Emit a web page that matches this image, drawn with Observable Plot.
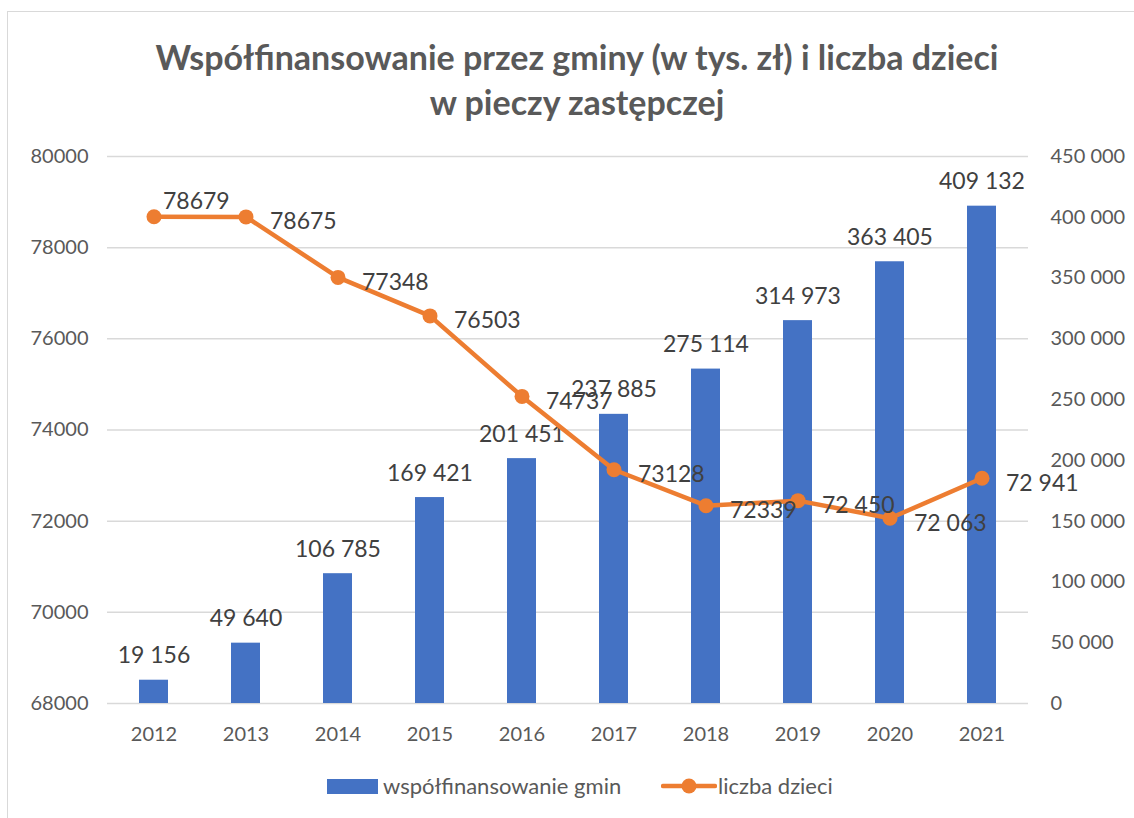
<!DOCTYPE html>
<html>
<head>
<meta charset="utf-8">
<script src="https://cdn.jsdelivr.net/npm/d3@7"></script>
<script src="https://cdn.jsdelivr.net/npm/@observablehq/plot@0.6"></script>
<style>
  body { margin: 0; background: #fff; font-family: Lato, "Open Sans", sans-serif; }
  #wrap { position: relative; width: 1134px; height: 818px; overflow: hidden; }
  #frame { position: absolute; left: 7px; top: 11px; width: 1200px; height: 900px; border: 1.5px solid #d9d9d9; box-sizing: border-box; }
  #title { position: absolute; left: 0; top: 34px; width: 1154px; text-align: center; font-weight: bold; font-size: 34px; line-height: 45px; color: #595959; }
  #chart { position: absolute; left: 0; top: 130px; }
  #legend { position: absolute; top: 774px; left: 0; width: 1134px; height: 24px; font-size: 22px; color: #595959; }
  .li { position: absolute; top: 0; height: 24px; line-height: 24px; white-space: nowrap; }
</style>
</head>
<body>
<div id="wrap">
  <div id="frame"></div>
  <div id="title">Współfinansowanie przez gminy (w tys. zł) i liczba dzieci<br>w pieczy zastępczej</div>
  <div id="chart"></div>
  <div id="legend">
    <svg class="li" style="left:327px; top:5px" width="51" height="15"><rect width="51" height="15" fill="#4472C4"/></svg>
    <span class="li" style="left:383px">współfinansowanie gmin</span>
    <svg class="li" style="left:661px; top:0px" width="56" height="24"><line x1="2" x2="54" y1="12" y2="12" stroke="#ED7D31" stroke-width="4.5" stroke-linecap="round"/><circle cx="28" cy="12" r="7.5" fill="#ED7D31"/></svg>
    <span class="li" style="left:718px">liczba dzieci</span>
  </div>
</div>
<script>
const years = ["2012","2013","2014","2015","2016","2017","2018","2019","2020","2021"];
const funding = [19156, 49640, 106785, 169421, 201451, 237885, 275114, 314973, 363405, 409132];
const children = [78679, 78675, 77348, 76503, 74737, 73128, 72339, 72450, 72063, 72941];
const childrenLabels = ["78679","78675","77348","76503","74737","73128","72339","72 450","72 063","72 941"];
const leftTicks = [68000, 70000, 72000, 74000, 76000, 78000, 80000];
const rightTicks = [0, 50000, 100000, 150000, 200000, 250000, 300000, 350000, 400000, 450000];

const leftMin = 68000, leftMax = 80000, rightMax = 450000;
const toLeft = v => leftMin + v / rightMax * (leftMax - leftMin);
const fromLeft = v => (v - leftMin) / (leftMax - leftMin) * rightMax;
const spaceFmt = d3.formatLocale({decimal: ",", thousands: "\u00a0", grouping: [3], currency: ["", ""]}).format(",d");

const data = years.map((y, i) => ({
  year: y, funding: funding[i], fy: toLeft(funding[i]),
  children: children[i], label: childrenLabels[i], first: i === 0
}));

const plot = Plot.plot({
  width: 1134,
  height: 630,
  marginTop: 26,
  marginBottom: 57,
  marginLeft: 107,
  marginRight: 106,
  style: { fontFamily: "Lato, 'Open Sans', sans-serif", background: "transparent" },
  x: { type: "band", domain: years, paddingInner: 0.69, paddingOuter: 0.345, align: 0.5 },
  y: { domain: [leftMin, leftMax] },
  marks: [
    Plot.gridY(leftTicks, { stroke: "#d9d9d9", strokeOpacity: 1, strokeWidth: 1.5 }),
    Plot.axisY(leftTicks, { anchor: "left", tickSize: 0, tickPadding: 19, fontSize: 20, fill: "#595959", tickFormat: d => String(d), label: null }),
    Plot.axisY(rightTicks.map(toLeft), { anchor: "right", tickSize: 0, tickPadding: 22, fontSize: 20, fill: "#595959", tickFormat: d => spaceFmt(Math.round(fromLeft(d))), label: null }),
    Plot.axisX({ tickSize: 0, tickPadding: 23, fontSize: 20, fill: "#595959", label: null }),
    Plot.barY(data, { x: "year", y1: leftMin, y2: "fy", fill: "#4472C4" }),
    Plot.text(data, { x: "year", y: "fy", text: d => spaceFmt(d.funding), lineAnchor: "bottom", dy: -17, fontSize: 23, fill: "#404040" }),
    Plot.line(data, { x: "year", y: "children", stroke: "#ED7D31", strokeWidth: 4.5, strokeLinejoin: "round", strokeLinecap: "round" }),
    Plot.dot(data, { x: "year", y: "children", r: 7.5, fill: "#ED7D31" }),
    Plot.text(data.filter(d => !d.first), { x: "year", y: "children", text: "label", textAnchor: "start", dx: 24, dy: 5, fontSize: 23, fill: "#404040" }),
    Plot.text(data.filter(d => d.first), { x: "year", y: "children", text: "label", textAnchor: "start", dx: 9, dy: -15, fontSize: 23, fill: "#404040" })
  ]
});
document.getElementById("chart").appendChild(plot);
</script>
</body>
</html>
